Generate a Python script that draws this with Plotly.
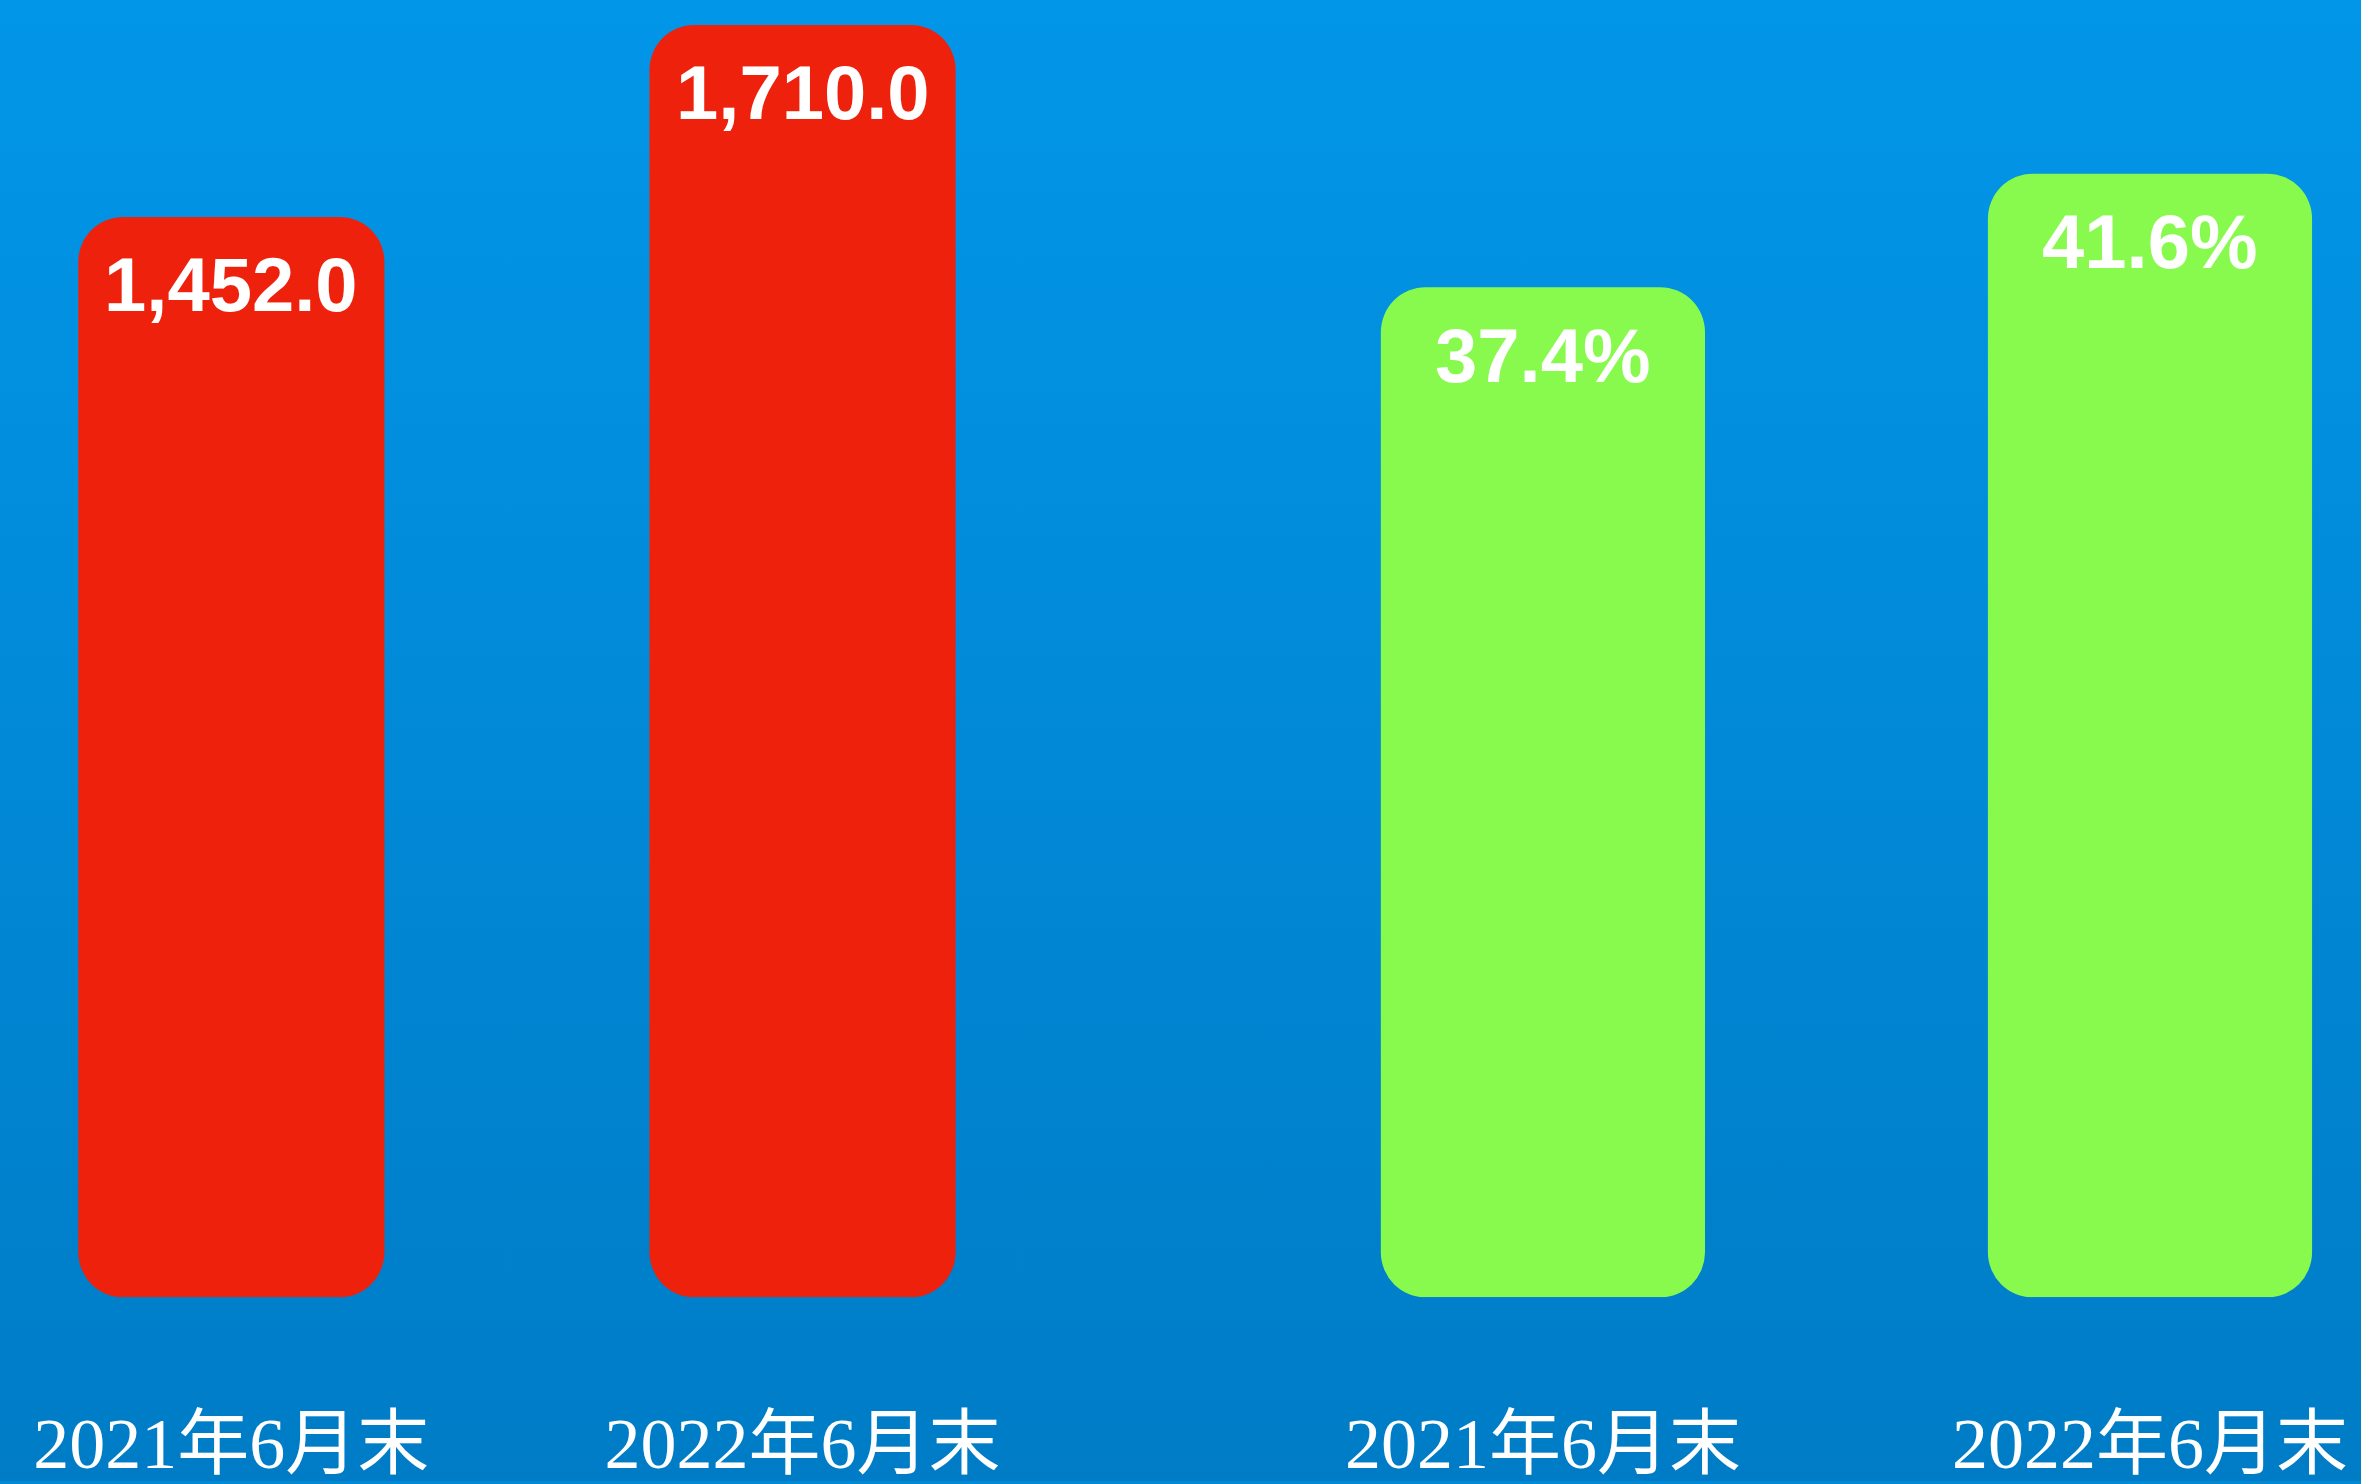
import plotly.graph_objects as go

# ---- data ----
categories = ["2021年6月末", "2022年6月末"]
amount_values = [1452.0, 1710.0]
ratio_values = [37.4, 41.6]

amount_labels = [f"{v:,.1f}" for v in amount_values]
ratio_labels = [f"{v:.1f}%" for v in ratio_values]

RED = "#EE220C"
GREEN = "#88FA4E"
W, H = 2361, 1484

fig = go.Figure()

# gradient background on a full-page helper subplot
fig.add_trace(go.Scatter(
    x=[0, 1, 1, 0, 0], y=[0, 0, 1, 1, 0], fill="toself", mode="lines",
    line=dict(width=0, color="rgba(0,0,0,0)"),
    fillgradient=dict(type="vertical", colorscale=[[0, "#007CC6"], [1, "#0296E8"]],
                      start=0, stop=1),
    hoverinfo="skip", showlegend=False, xaxis="x", yaxis="y"))


def add_bars(vals, color, width, xa, ya):
    fig.add_trace(go.Bar(x=categories, y=vals, base=[0] * len(vals), width=width,
                         marker=dict(color=color, line=dict(width=0)),
                         showlegend=False, hoverinfo="skip", xaxis=xa, yaxis=ya))


add_bars(amount_values, RED, 0.536, "x2", "y2")
add_bars(ratio_values, GREEN, 0.534, "x3", "y3")

annotations = []
for c, v, t in zip(categories, amount_values, amount_labels):
    annotations.append(dict(x=c, y=v, xref="x2", yref="y2", text=t, showarrow=False,
                            yanchor="middle", yshift=-68,
                            font=dict(family="Liberation Sans, Arial, sans-serif",
                                      size=76, color="white", weight="bold")))
for c, v, t in zip(categories, ratio_values, ratio_labels):
    annotations.append(dict(x=c, y=v, xref="x3", yref="y3", text=t, showarrow=False,
                            yanchor="middle", yshift=-68,
                            font=dict(family="Liberation Sans Narrow, Liberation Sans, Arial, sans-serif",
                                      size=76, color="white", weight="bold")))

tickfont = dict(family="Liberation Serif, Noto Sans CJK SC, serif", size=72, color="white")
ydom = [184 / H, 1]

fig.update_layout(
    width=W, height=H,
    margin=dict(l=0, r=0, t=0, b=0),
    paper_bgcolor="#0289D6",
    plot_bgcolor="rgba(0,0,0,0)",
    barmode="overlay",
    barcornerradius=45,
    annotations=annotations,
    xaxis=dict(domain=[0, 1], range=[0, 1], visible=False, fixedrange=True),
    yaxis=dict(domain=[0, 1], range=[0, 1], visible=False, fixedrange=True),
    xaxis2=dict(domain=[0, 0.45], anchor="y2", type="category", range=[-0.405, 1.455],
                showgrid=False, showline=False, zeroline=False, ticks="",
                tickfont=tickfont, ticklabelstandoff=98),
    yaxis2=dict(domain=ydom, anchor="x2", range=[0, 1743.5], visible=False),
    xaxis3=dict(domain=[0.5, 1], anchor="y3", type="category", range=[-0.597, 1.3476],
                showgrid=False, showline=False, zeroline=False, ticks="",
                tickfont=tickfont, ticklabelstandoff=98),
    yaxis3=dict(domain=ydom, anchor="x3", range=[0, 48.03], visible=False),
)

fig.write_html("out.html", config={"displayModeBar": False},
               post_script="document.body.style.margin='0';document.body.style.overflow='hidden';")
